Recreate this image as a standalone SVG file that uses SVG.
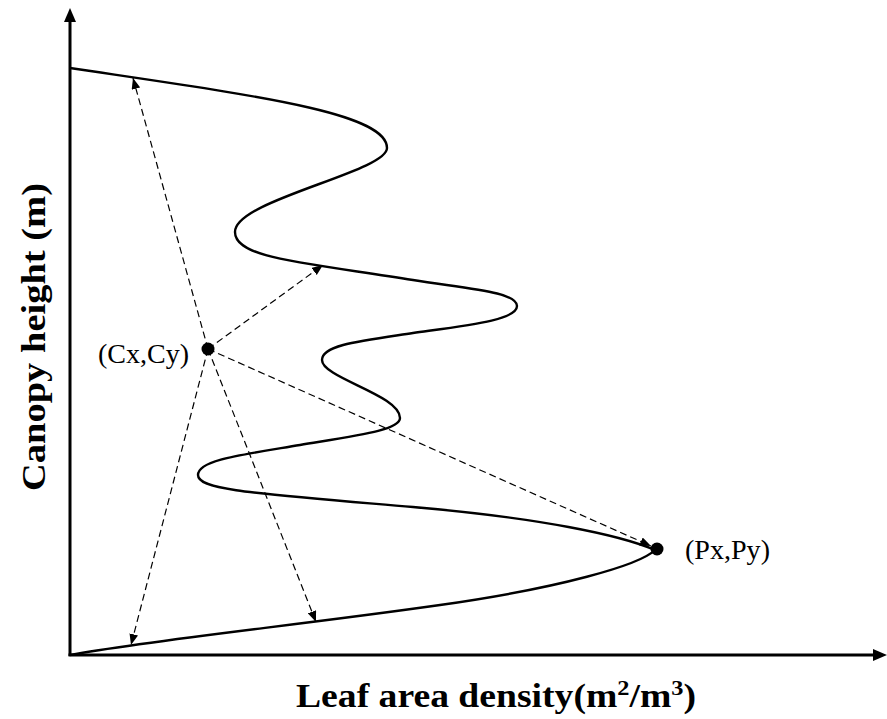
<svg xmlns="http://www.w3.org/2000/svg" width="887" height="719" viewBox="0 0 887 719">
<defs>
<style>
.axis{stroke:#000;stroke-width:3;fill:none}
.curve{stroke:#000;stroke-width:2.4;fill:none}
.dash{stroke:#000;stroke-width:1.2;fill:none;stroke-dasharray:7 4;marker-end:url(#ah)}
.lbl{font-family:"Liberation Serif","Times New Roman",serif;font-size:28px;fill:#000}
.ttl{font-family:"Liberation Serif","Times New Roman",serif;font-size:34px;font-weight:bold;fill:#000}
.sup{font-size:22px}
</style>
<marker id="ah" markerUnits="userSpaceOnUse" viewBox="0 0 10 8" refX="10" refY="4" markerWidth="11" markerHeight="9" orient="auto">
<path d="M0,0 L10,4 L0,8 z" fill="#000"/>
</marker>
</defs>
<rect width="887" height="719" fill="#fff"/>
<g id="axes">
<path class="axis" d="M70,656 V18"/>
<path d="M70,8 L76,22 L64,22 z" fill="#000"/>
<path class="axis" d="M68.5,655 H876"/>
<path d="M887,655 L873,661 L873,649 z" fill="#000"/>
</g>
<g id="profile">
<path class="curve" d="M70,68 C250,95 387,112 387,148 C387,172 235,200 235,232 C235,258 300,262 413,280 C470,289 517,292 517,306 C517,320 470,325 413,333 C360,341 322,345 322,360 C322,378 400,395 400,418 C400,430 360,435 300,445 C240,455 198,460 198,475 C198,490 250,493 413,507 C540,518 620,535 655,550 C640,565 560,588 440,605 C300,625 150,640 70,655"/>
</g>
<g id="connectors">
<path class="dash" d="M208,349 L133,78"/>
<path class="dash" d="M208,349 L323,265"/>
<path class="dash" d="M208,349 L651,546"/>
<path class="dash" d="M208,349 L131,645"/>
<path class="dash" d="M208,349 L316,622"/>
</g>
<g id="node-c">
<circle cx="208" cy="349" r="6.5" fill="#000"/>
<text class="lbl" x="98" y="363" textLength="91" lengthAdjust="spacingAndGlyphs">(Cx,Cy)</text>
</g>
<g id="node-p">
<circle cx="657" cy="549" r="6.5" fill="#000"/>
<text class="lbl" x="685" y="559" textLength="85" lengthAdjust="spacingAndGlyphs">(Px,Py)</text>
</g>
<g id="labels">
<text class="ttl" x="496" y="707" text-anchor="middle" textLength="400" lengthAdjust="spacingAndGlyphs">Leaf area density(m<tspan class="sup" dy="-12">2</tspan><tspan dy="12">/m</tspan><tspan class="sup" dy="-12">3</tspan><tspan dy="12">)</tspan></text>
<text class="ttl" transform="translate(45,337) rotate(-90)" x="0" y="0" text-anchor="middle" textLength="308" lengthAdjust="spacingAndGlyphs">Canopy height (m)</text>
</g>
</svg>
